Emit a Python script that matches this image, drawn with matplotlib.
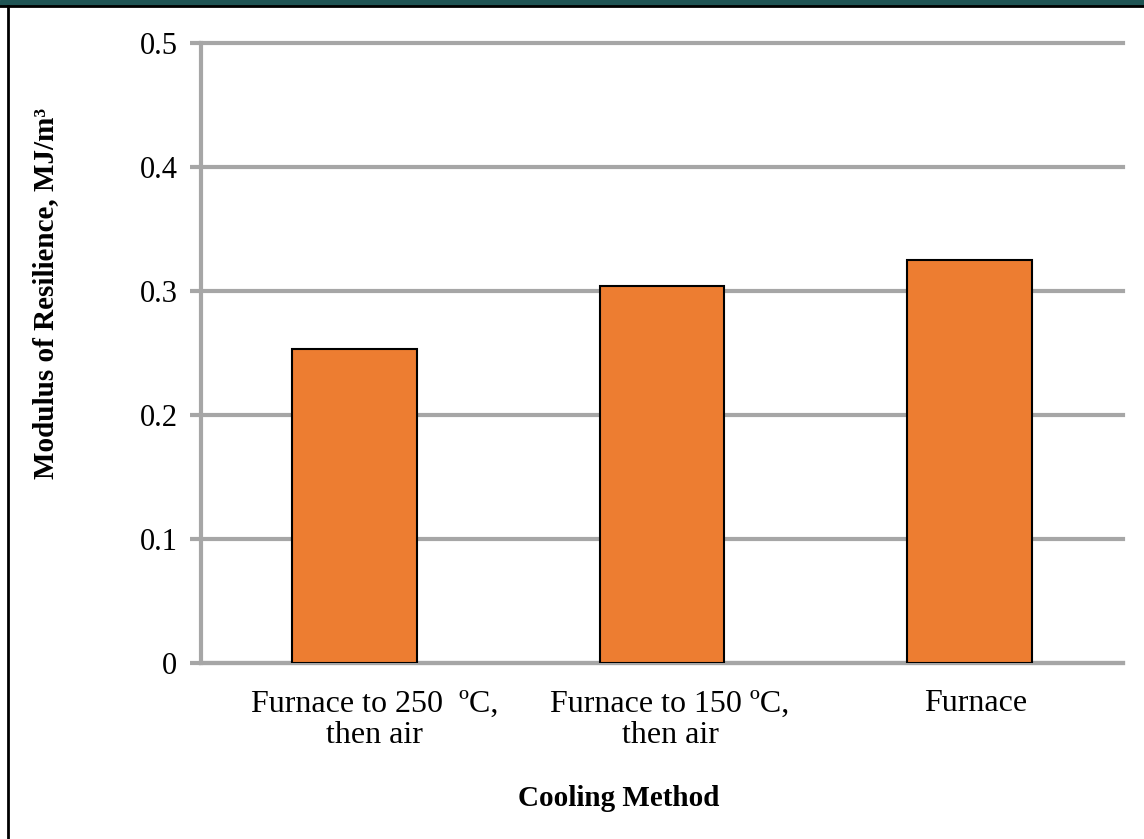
import matplotlib.pyplot as plt
from matplotlib.patches import Rectangle
from matplotlib.lines import Line2D
from matplotlib.transforms import ScaledTranslation

# cooling methods and measured modulus of resilience (MJ/m^3)
methods = ['Furnace to 250  ºC,\nthen air', 'Furnace to 150 ºC,\nthen air', 'Furnace']
resilience = [0.253, 0.304, 0.325]
yticks = [0, 0.1, 0.2, 0.3, 0.4, 0.5]

plt.rcParams['font.family'] = ['Liberation Serif', 'DejaVu Serif']

fig = plt.figure(figsize=(11.44, 8.39), dpi=100)
ax = fig.add_axes([201 / 1144, 1 - 663 / 839, 922 / 1144, 620 / 839])

grid = '#a6a6a6'
x = range(len(methods))
ax.bar(x, resilience, width=0.405, color='#ed7d31', edgecolor='black',
       linewidth=1.5, zorder=3)

ax.set_xlim(-0.5, len(methods) - 0.5)
ax.set_ylim(0, 0.5)
ax.set_yticks(yticks)
ax.set_yticklabels(['0' if v == 0 else f'{v:.1f}' for v in yticks])
ax.set_xticks(list(x))
ax.set_xticklabels(methods, linespacing=1.1)
ax.yaxis.grid(True, color=grid, linewidth=3, zorder=0)
for gl in ax.get_ygridlines():
    gl.set_clip_on(False)
ax.set_axisbelow(True)

for side in ['top', 'right', 'bottom']:
    ax.spines[side].set_visible(False)
ax.spines['left'].set_color(grid)
ax.spines['left'].set_linewidth(3)
ax.tick_params(axis='y', length=8, width=3, color=grid, labelsize=22, pad=9)
ax.tick_params(axis='x', length=0, labelsize=23, pad=19)
ax.axhline(0, color=grid, linewidth=3, zorder=1, clip_on=False)

# category labels sit a little right of the bar centres
for lbl, dx in zip(ax.get_xticklabels(), [20, 8, 6]):
    lbl.set_transform(lbl.get_transform() + ScaledTranslation(dx / 100, 0, fig.dpi_scale_trans))

ax.set_ylabel('Modulus of Resilience, MJ/m³', fontsize=21, fontweight='bold',
              labelpad=0)
ax.yaxis.set_label_coords(-142 / 922, 370 / 620)
ax.set_xlabel('Cooling Method', fontsize=21, fontweight='bold')
ax.xaxis.set_label_coords(418 / 922, -122 / 620)

# frame around the figure
fig.patches.append(Rectangle((0, 1 - 5 / 839), 1, 5 / 839, transform=fig.transFigure,
                             color='#1f5454', zorder=0))
fig.lines.append(Line2D([0, 1], [1 - 6 / 839] * 2, transform=fig.transFigure,
                        color='black', linewidth=2))
fig.lines.append(Line2D([8 / 1144] * 2, [0, 1 - 6 / 839], transform=fig.transFigure,
                        color='black', linewidth=2))

fig.savefig('out.png', dpi=100)
